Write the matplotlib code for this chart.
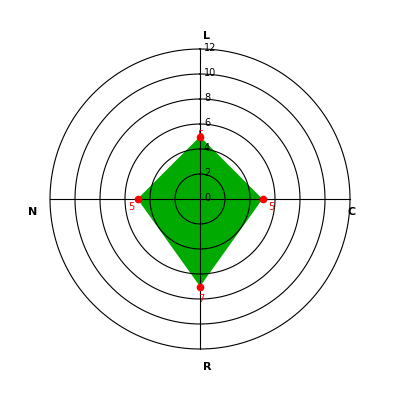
import numpy as np
import matplotlib
matplotlib.use("Agg")
import matplotlib.pyplot as plt

categories = ["L", "C", "R", "N"]
values = [5, 5, 7, 5]
rticks = [0, 2, 4, 6, 8, 10, 12]

PX = 72 / 100  # points per pixel

fig = plt.figure(figsize=(4, 4), dpi=100)
ax = fig.add_axes([50/400, 51/400, 300/400, 300/400], projection="polar")
ax.set_theta_zero_location("N")
ax.set_theta_direction(-1)
ax.set_ylim(0, 12)

angles = np.arange(len(categories)) * 2 * np.pi / len(categories)
ang_c = np.concatenate([angles, angles[:1]])
val_c = np.concatenate([values, values[:1]])

ax.fill(ang_c, val_c, color="#00aa00", zorder=1, linewidth=0)
th = np.linspace(0, 2*np.pi, 400)
for r in rticks[1:]:
    ax.plot(th, np.full_like(th, r), color="black", lw=0.8, zorder=2, clip_on=False)
for a in angles:
    ax.plot([a, a], [0, 12], color="black", lw=0.8, zorder=2, clip_on=False)

# value labels (drawn under markers)
offs = {0: (0, -1), 1: (9, 8), 2: (1, 13), 3: (-6, 8)}
for i, (a, v) in enumerate(zip(angles, values)):
    dx, dy = offs[i]
    ax.annotate(str(v), (a, v), xytext=(dx*PX, -dy*PX), textcoords="offset points",
                color="red", fontsize=7, ha="center", va="center", zorder=3,
                annotation_clip=False)

ax.plot(angles, values, "o", color="red", markersize=5.5, zorder=4,
        markeredgewidth=0, clip_on=False)

ax.grid(False)
ax.set_xticks([])
ax.set_yticks([])
ax.spines["polar"].set_visible(False)

for r in rticks:
    ax.annotate(str(r), (0, r), xytext=(4*PX, 1*PX), textcoords="offset points",
                fontsize=7, color="black", ha="left", va="center", zorder=5,
                annotation_clip=False)

cat_offs = {0: (7, -13), 1: (2, 13), 2: (7, 18), 3: (-17, 13)}
for i, (a, c) in enumerate(zip(angles, categories)):
    dx, dy = cat_offs[i]
    ax.annotate(c, (a, 12), xytext=(dx*PX, -dy*PX), textcoords="offset points",
                fontsize=8, fontweight="bold", ha="center", va="center",
                annotation_clip=False)

fig.savefig("out.png", dpi=100, facecolor="white")
